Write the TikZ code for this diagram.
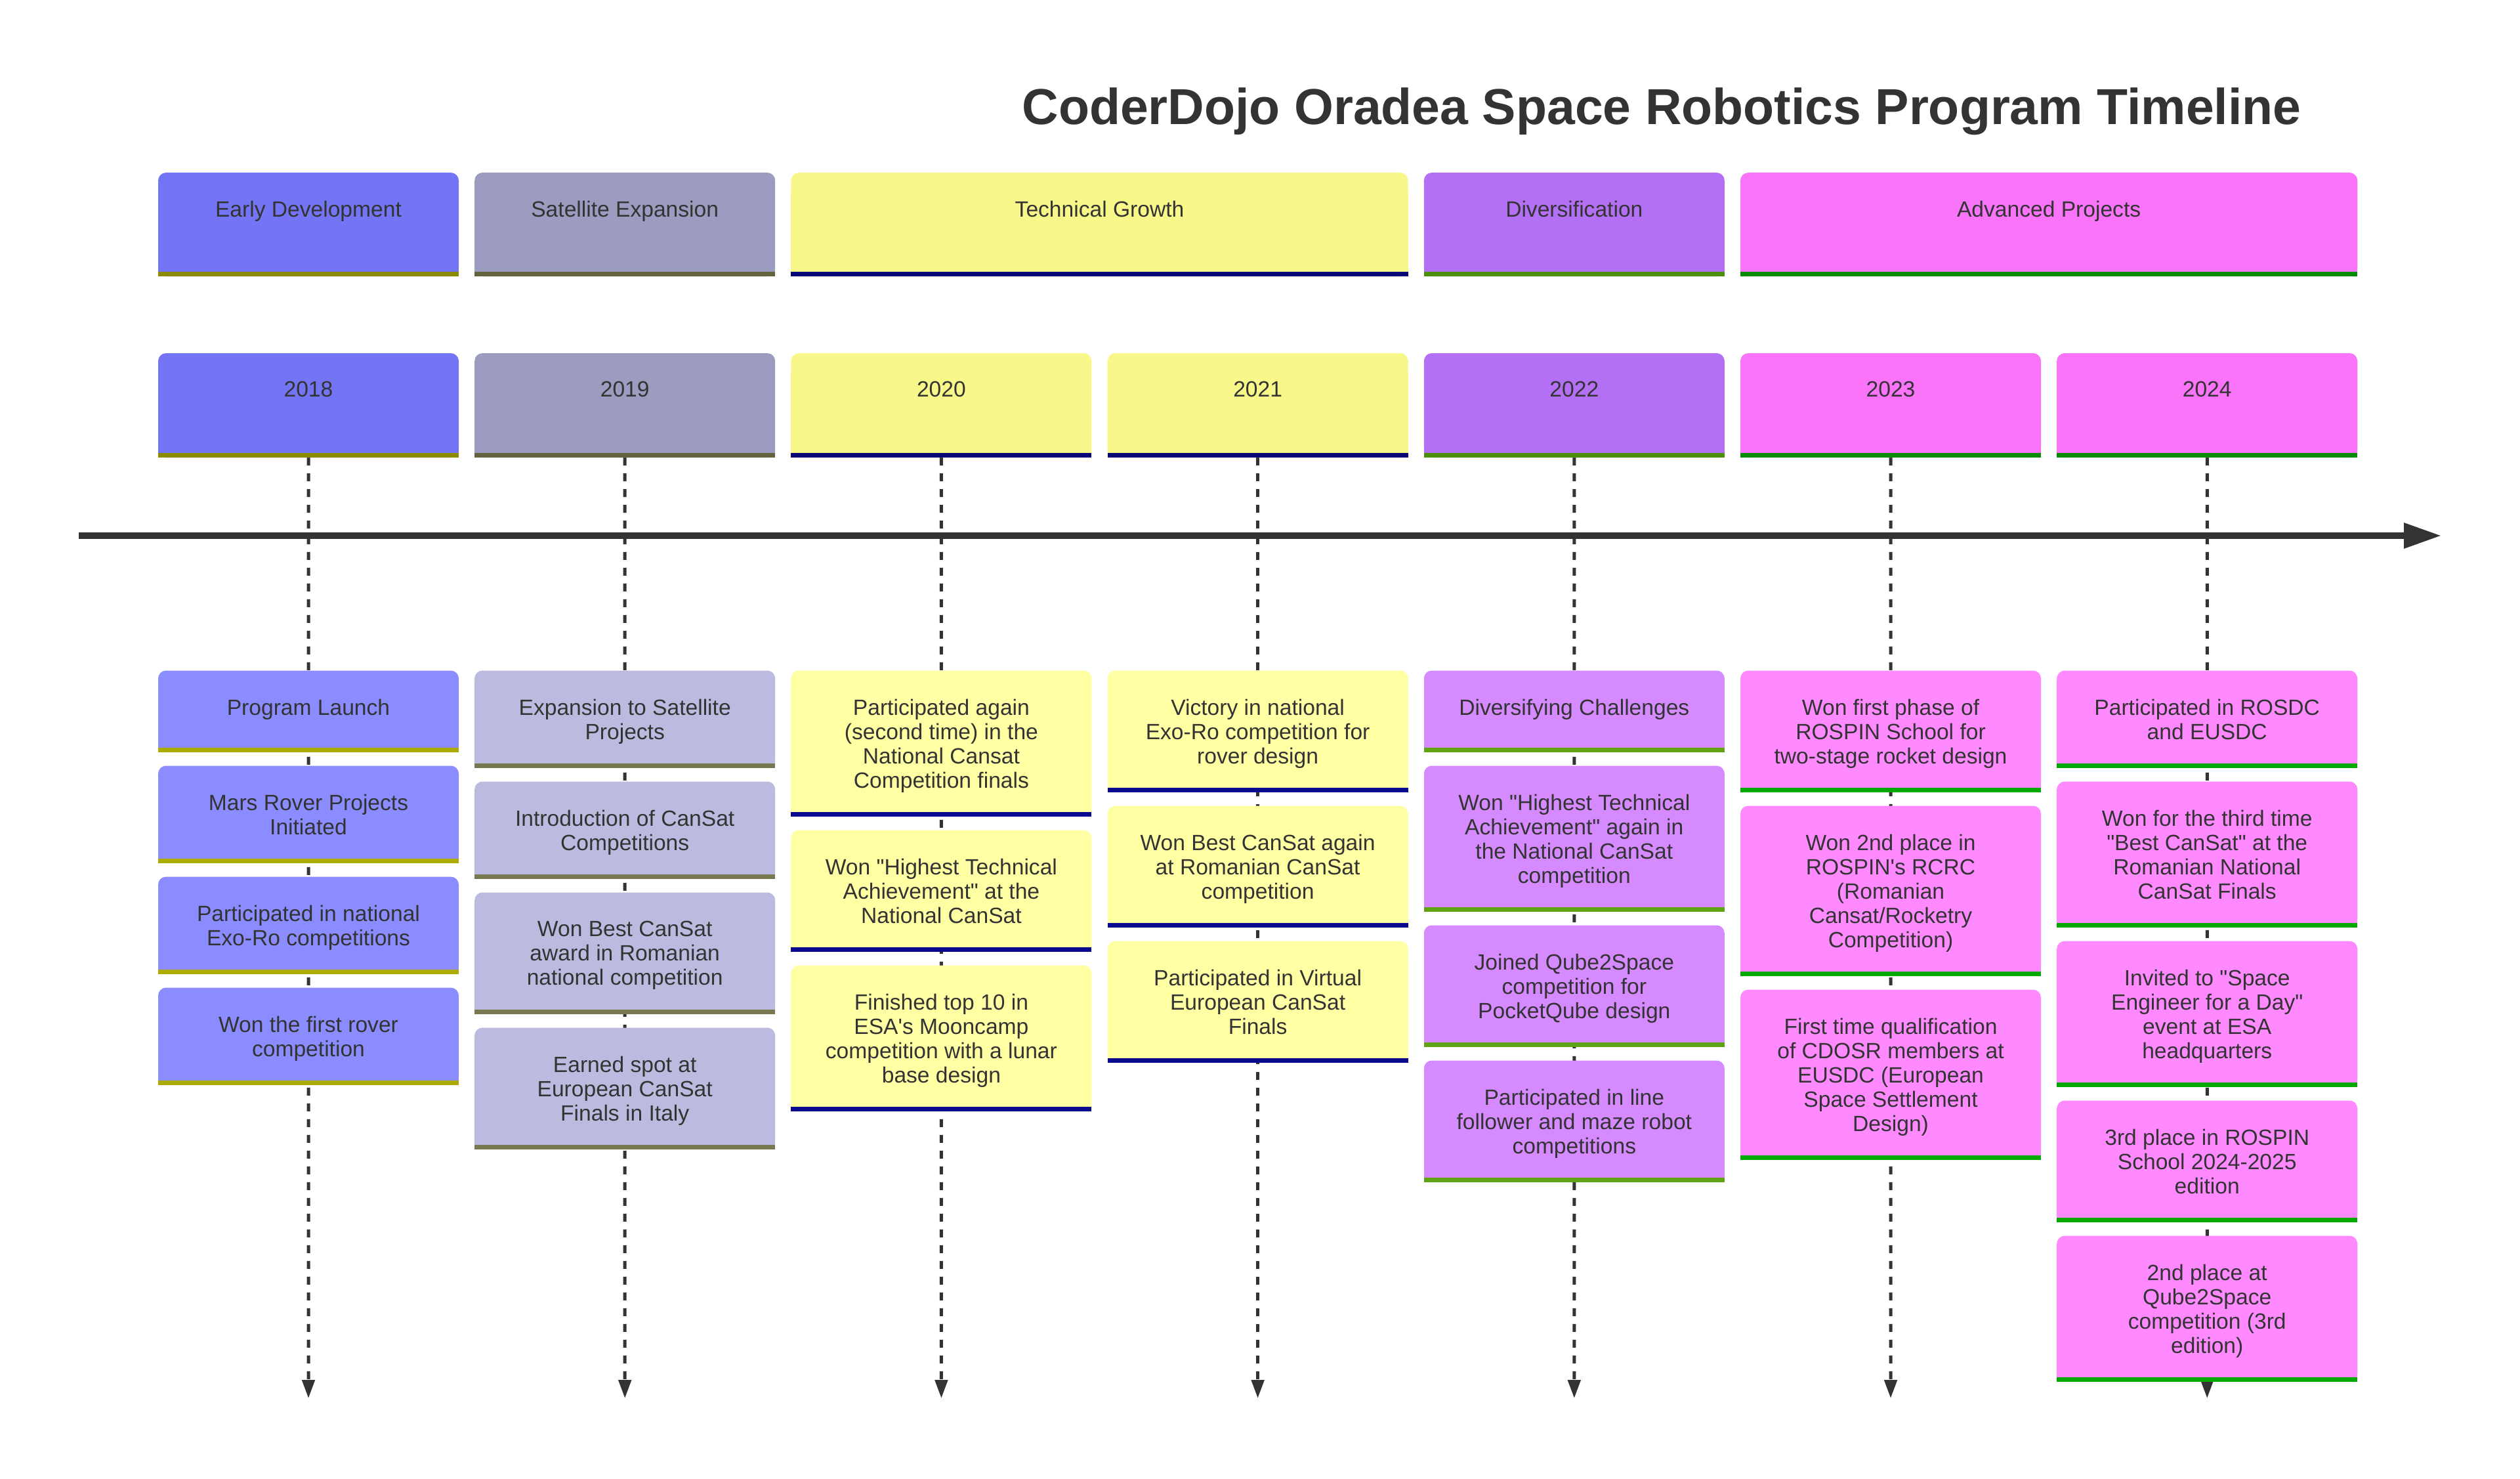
\documentclass[tikz,border=0pt]{standalone}
\usepackage{fontspec}
\usepackage{tikz}
\usetikzlibrary{arrows.meta, positioning, calc, backgrounds}
\newfontfamily\tlfont{Liberation Sans}[Ligatures=TeXOff]
\definecolor{txt}{HTML}{333333}
\definecolor{sec1}{HTML}{7375F5}
\definecolor{sec1line}{HTML}{8B8B00}
\definecolor{ev1}{HTML}{8A8CFF}
\definecolor{ev1line}{HTML}{ABAB00}
\definecolor{sec2}{HTML}{9B9CBF}
\definecolor{sec2line}{HTML}{646340}
\definecolor{ev2}{HTML}{BBBBE0}
\definecolor{ev2line}{HTML}{777750}
\definecolor{sec3}{HTML}{F8F88A}
\definecolor{sec3line}{HTML}{070775}
\definecolor{ev3}{HTML}{FFFFA3}
\definecolor{ev3line}{HTML}{0A0A8F}
\definecolor{sec4}{HTML}{B370F5}
\definecolor{sec4line}{HTML}{4C8F0A}
\definecolor{ev4}{HTML}{D68AFF}
\definecolor{ev4line}{HTML}{5FA312}
\definecolor{sec5}{HTML}{FA74FA}
\definecolor{sec5line}{HTML}{058B05}
\definecolor{ev5}{HTML}{FF8AFF}
\definecolor{ev5line}{HTML}{00A800}
\tikzstyle{boxtext} = [inner sep=0pt, align=center, text=txt, font=\tlfont\fontsize{9.56}{10.53}\selectfont]
\tikzstyle{yearline} = [draw=txt, line width=0.05cm, dash pattern=on 0.12cm off 0.12cm, -{Triangle[length=0.28cm, width=0.19cm]}]
\tikzstyle{timeaxis} = [draw=txt, line width=0.093cm, -{Triangle[length=0.57cm, width=0.37cm]}]
% box with rounded top corners, a band along the bottom and its text
\newcommand{\tlbox}[7]{%
  \fill[#6, rounded corners=0.12cm] (#2,#4) rectangle (#3,#5);
  \fill[#6] ([yshift=-0.3cm]#2,#4) rectangle (#3,#5);
  \fill[#6line] ([yshift=0.07cm]#2,#5) rectangle (#3,#5);
  \node (#1) at ($(#2,#4)!0.5!(#3,#4)+(0,-0.425)$) [boxtext, anchor=north] {#7};
  \coordinate (#1-b) at ($(#2,#5)!0.5!(#3,#5)$);
}

\begin{document}
\begin{tikzpicture}
    \useasboundingbox (0,0) rectangle (38.4,-22.52);

    % Title
    \node (title) at (25.32,-1.90) [anchor=base, text=txt, font=\tlfont\bfseries\fontsize{21.9}{26}\selectfont] {CoderDojo Oradea Space Robotics Program Timeline};

    % Sections
    \tlbox{secEarly}{2.41}{6.99}{-2.63}{-4.21}{sec1}{Early Development}
    \tlbox{secSat}{7.232}{11.812}{-2.63}{-4.21}{sec2}{Satellite Expansion}
    \tlbox{secTech}{12.054}{21.456}{-2.63}{-4.21}{sec3}{Technical Growth}
    \tlbox{secDiv}{21.698}{26.278}{-2.63}{-4.21}{sec4}{Diversification}
    \tlbox{secAdv}{26.52}{35.922}{-2.63}{-4.21}{sec5}{Advanced Projects}

    % Years
    \tlbox{y2018}{2.41}{6.99}{-5.38}{-6.97}{sec1}{2018}
    \tlbox{y2019}{7.232}{11.812}{-5.38}{-6.97}{sec2}{2019}
    \tlbox{y2020}{12.054}{16.634}{-5.38}{-6.97}{sec3}{2020}
    \tlbox{y2021}{16.876}{21.456}{-5.38}{-6.97}{sec3}{2021}
    \tlbox{y2022}{21.698}{26.278}{-5.38}{-6.97}{sec4}{2022}
    \tlbox{y2023}{26.52}{31.10}{-5.38}{-6.97}{sec5}{2023}
    \tlbox{y2024}{31.342}{35.922}{-5.38}{-6.97}{sec5}{2024}

    % Time axis
    \coordinate (axisL) at (1.20,-8.16);
    \coordinate (axisR) at (37.20,-8.16);
    \draw [timeaxis] (axisL) -- (axisR);

    % Events 2018
    \tlbox{e2018a}{2.41}{6.99}{-10.215}{-11.455}{ev1}{Program Launch}
    \tlbox{e2018b}{2.41}{6.99}{-11.665}{-13.145}{ev1}{Mars Rover Projects\\Initiated}
    \tlbox{e2018c}{2.41}{6.99}{-13.355}{-14.835}{ev1}{Participated in national\\Exo-Ro competitions}
    \tlbox{e2018d}{2.41}{6.99}{-15.045}{-16.525}{ev1}{Won the first rover\\competition}

    % Events 2019
    \tlbox{e2019a}{7.232}{11.812}{-10.215}{-11.695}{ev2}{Expansion to Satellite\\Projects}
    \tlbox{e2019b}{7.232}{11.812}{-11.905}{-13.385}{ev2}{Introduction of CanSat\\Competitions}
    \tlbox{e2019c}{7.232}{11.812}{-13.595}{-15.445}{ev2}{Won Best CanSat\\award in Romanian\\national competition}
    \tlbox{e2019d}{7.232}{11.812}{-15.655}{-17.505}{ev2}{Earned spot at\\European CanSat\\Finals in Italy}

    % Events 2020
    \tlbox{e2020a}{12.054}{16.634}{-10.215}{-12.435}{ev3}{Participated again\\(second time) in the\\National Cansat\\Competition finals}
    \tlbox{e2020b}{12.054}{16.634}{-12.645}{-14.495}{ev3}{Won "Highest Technical\\Achievement" at the\\National CanSat}
    \tlbox{e2020c}{12.054}{16.634}{-14.705}{-16.925}{ev3}{Finished top 10 in\\ESA's Mooncamp\\competition with a lunar\\base design}

    % Events 2021
    \tlbox{e2021a}{16.876}{21.456}{-10.215}{-12.065}{ev3}{Victory in national\\Exo-Ro competition for\\rover design}
    \tlbox{e2021b}{16.876}{21.456}{-12.275}{-14.125}{ev3}{Won Best CanSat again\\at Romanian CanSat\\competition}
    \tlbox{e2021c}{16.876}{21.456}{-14.335}{-16.185}{ev3}{Participated in Virtual\\European CanSat\\Finals}

    % Events 2022
    \tlbox{e2022a}{21.698}{26.278}{-10.215}{-11.455}{ev4}{Diversifying Challenges}
    \tlbox{e2022b}{21.698}{26.278}{-11.665}{-13.885}{ev4}{Won "Highest Technical\\Achievement" again in\\the National CanSat\\competition}
    \tlbox{e2022c}{21.698}{26.278}{-14.095}{-15.945}{ev4}{Joined Qube2Space\\competition for\\PocketQube design}
    \tlbox{e2022d}{21.698}{26.278}{-16.155}{-18.005}{ev4}{Participated in line\\follower and maze robot\\competitions}

    % Events 2023
    \tlbox{e2023a}{26.52}{31.10}{-10.215}{-12.065}{ev5}{Won first phase of\\ROSPIN School for\\two-stage rocket design}
    \tlbox{e2023b}{26.52}{31.10}{-12.275}{-14.865}{ev5}{Won 2nd place in\\ROSPIN's RCRC\\(Romanian\\Cansat/Rocketry\\Competition)}
    \tlbox{e2023c}{26.52}{31.10}{-15.075}{-17.665}{ev5}{First time qualification\\of CDOSR members at\\EUSDC (European\\Space Settlement\\Design)}

    % Events 2024
    \tlbox{e2024a}{31.342}{35.922}{-10.215}{-11.695}{ev5}{Participated in ROSDC\\and EUSDC}
    \tlbox{e2024b}{31.342}{35.922}{-11.905}{-14.125}{ev5}{Won for the third time\\"Best CanSat" at the\\Romanian National\\CanSat Finals}
    \tlbox{e2024c}{31.342}{35.922}{-14.335}{-16.555}{ev5}{Invited to "Space\\Engineer for a Day"\\event at ESA\\headquarters}
    \tlbox{e2024d}{31.342}{35.922}{-16.765}{-18.615}{ev5}{3rd place in ROSPIN\\School 2024-2025\\edition}
    \tlbox{e2024e}{31.342}{35.922}{-18.825}{-21.045}{ev5}{2nd place at\\Qube2Space\\competition (3rd\\edition)}

    % Year lines
    \coordinate (end2018) at (4.70,-21.30);
    \coordinate (end2019) at (9.522,-21.30);
    \coordinate (end2020) at (14.344,-21.30);
    \coordinate (end2021) at (19.166,-21.30);
    \coordinate (end2022) at (23.988,-21.30);
    \coordinate (end2023) at (28.81,-21.30);
    \coordinate (end2024) at (33.632,-21.30);
    \begin{scope}[on background layer]
        \draw [yearline] (y2018-b) -- (end2018);
        \draw [yearline] (y2019-b) -- (end2019);
        \draw [yearline] (y2020-b) -- (end2020);
        \draw [yearline] (y2021-b) -- (end2021);
        \draw [yearline] (y2022-b) -- (end2022);
        \draw [yearline] (y2023-b) -- (end2023);
        \draw [yearline] (y2024-b) -- (end2024);
    \end{scope}
\end{tikzpicture}
\end{document}
